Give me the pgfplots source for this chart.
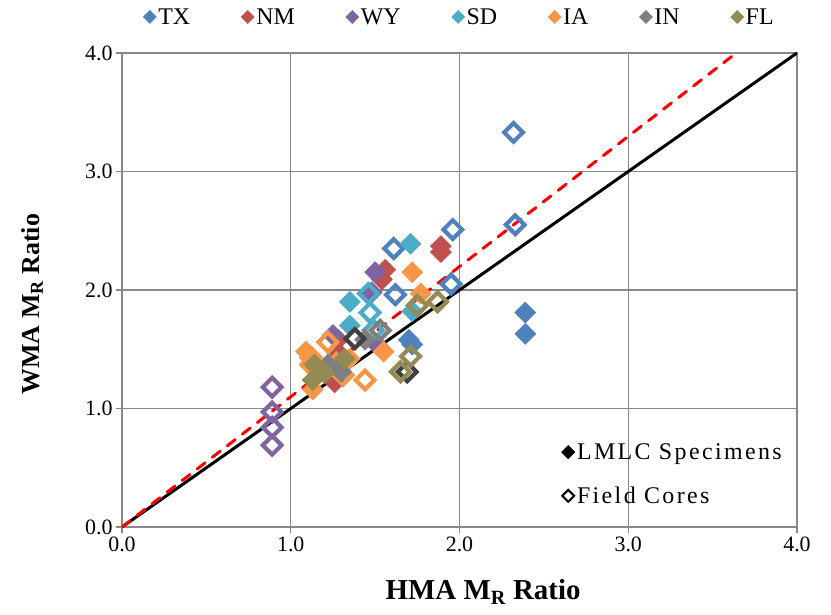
\documentclass[border=0pt]{standalone}
\usepackage{fontspec}
\setmainfont{Liberation Serif}
\usepackage{pgfplots}
\pgfplotsset{compat=1.18}
\definecolor{cTX}{HTML}{4F81BD}
\definecolor{cNM}{HTML}{C0504D}
\definecolor{cWY}{HTML}{8064A2}
\definecolor{cSD}{HTML}{4BACC6}
\definecolor{cIA}{HTML}{F79646}
\definecolor{cIN}{HTML}{7F7F7F}
\definecolor{cINd}{HTML}{404040}
\definecolor{cFL}{HTML}{948A54}
\definecolor{gridc}{HTML}{888888}
\pgfplotsset{
  fd/.style={only marks, mark=square*, mark size=7.3bp, mark options={rotate=45, fill=#1, draw=#1, line width=0.8bp}, forget plot},
  od/.style={only marks, mark=square, mark size=6.6bp, mark options={rotate=45, draw=#1, line width=4.2bp}, forget plot},
  ld/.style={only marks, mark=square*, mark size=4.6bp, mark options={rotate=45, fill=#1, draw=#1, line width=0.5bp}},
}
\begin{document}
\begin{tikzpicture}
\begin{axis}[name=ax, scale only axis, width=675bp, height=474bp,
  xmin=0, xmax=4, ymin=0, ymax=4,
  xtick={0,1,2,3,4}, ytick={0,1,2,3,4},
  xticklabels={0.0,1.0,2.0,3.0,4.0}, yticklabels={0.0,1.0,2.0,3.0,4.0},
  xtick pos=lower, ytick pos=left, tick align=outside, major tick length=6bp,
  grid=major, grid style={gridc, line width=1.3bp},
  axis line style={gridc, line width=1.3bp}, tick style={gridc, line width=1.3bp},
  tick label style={font=\fontsize{22}{26}\selectfont},
  xlabel={\textbf{HMA M\textsubscript{R} Ratio}},
  ylabel={\textbf{WMA M\textsubscript{R} Ratio}},
  xlabel style={font=\fontsize{29}{33}\selectfont, at={(axis description cs:0.535,-0.137)}, anchor=center},
  ylabel style={font=\fontsize{26}{30}\selectfont, at={(axis description cs:-0.1333,0.47)}, anchor=center, rotate=0},
  legend columns=7,
  legend style={at={(0.5,1.076)}, anchor=center, draw=none, fill=none,
    font=\fontsize{24}{28}\selectfont, nodes={inner xsep=2bp, inner ysep=1bp},
    /tikz/every even column/.append style={column sep=49bp}},
  legend image code/.code={\draw[#1] plot coordinates {(0bp,0bp)};},
]
\addlegendimage{ld=cTX}\addlegendentry{TX}
\addlegendimage{ld=cNM}\addlegendentry{NM}
\addlegendimage{ld=cWY}\addlegendentry{WY}
\addlegendimage{ld=cSD}\addlegendentry{SD}
\addlegendimage{ld=cIA}\addlegendentry{IA}
\addlegendimage{ld=cIN}\addlegendentry{IN}
\addlegendimage{ld=cFL}\addlegendentry{FL}
% TX
\addplot[fd=cTX] coordinates {(1.70,1.58)(1.72,1.54)(2.39,1.81)(2.39,1.63)};
\addplot[od=cTX] coordinates {(2.32,3.33)(2.33,2.55)(1.96,2.51)(1.95,2.05)(1.61,2.35)(1.62,1.96)};
% NM
\addplot[fd=cNM] coordinates {(1.89,2.37)(1.89,2.32)(1.56,2.17)(1.54,2.09)(1.28,1.58)(1.29,1.46)(1.26,1.22)};
% WY
\addplot[fd=cWY] coordinates {(1.50,2.15)(1.48,1.98)(1.25,1.62)(1.51,1.54)};
\addplot[od=cWY] coordinates {(0.89,1.18)(0.89,0.97)(0.89,0.84)(0.89,0.69)};
% SD
\addplot[fd=cSD] coordinates {(1.71,2.39)(1.35,1.90)(1.35,1.70)(1.72,1.82)};
\addplot[od=cSD] coordinates {(1.46,1.97)(1.47,1.81)(1.49,1.66)};
% IA
\addplot[fd=cIA] coordinates {(1.72,2.15)(1.77,1.97)(1.55,1.48)(1.09,1.48)(1.11,1.37)(1.13,1.16)(1.35,1.42)};
\addplot[od=cIA] coordinates {(1.22,1.56)(1.12,1.43)(1.31,1.28)(1.44,1.24)(1.27,1.38)};
% IN
\addplot[fd=cIN] coordinates {(1.22,1.37)(1.44,1.58)(1.30,1.31)};
\addplot[od=cIN] coordinates {(1.53,1.66)};
\addplot[od=cINd] coordinates {(1.38,1.59)(1.69,1.31)};
% FL
\addplot[fd=cFL] coordinates {(1.13,1.24)(1.14,1.37)(1.32,1.42)(1.20,1.30)};
\addplot[od=cFL] coordinates {(1.75,1.87)(1.87,1.90)(1.71,1.44)(1.65,1.31)};
% lines
\addplot[black, line width=3bp, forget plot] coordinates {(0,0)(4,4)};
\addplot[red, line width=3bp, line cap=round, dash pattern=on 10bp off 9bp, forget plot] coordinates {(0,0)(3.64,4)};
\end{axis}
\begin{axis}[scale only axis, width=675bp, height=474bp, hide axis,
  xmin=0, xmax=4, ymin=0, ymax=4,
  legend cell align=left,
  legend style={at={(0.985,0.04)}, anchor=south east, draw=none, fill=none,
    font=\fontsize{24}{28}\selectfont\addfontfeature{LetterSpace=10}, row sep=24bp,
    nodes={inner xsep=2bp, inner ysep=1bp}},
  legend image code/.code={\draw[#1] plot coordinates {(0bp,0bp)};},
]
\addlegendimage{only marks, mark=square*, mark size=4.8bp, mark options={rotate=45, fill=black, draw=black}}
\addlegendentry{LMLC Specimens}
\addlegendimage{only marks, mark=square, mark size=4.2bp, mark options={rotate=45, draw=black, line width=2bp}}
\addlegendentry{Field Cores}
\end{axis}
\pgfresetboundingbox
\path (ax.south west) ++(-122bp,-88bp) rectangle ++(831bp,615bp);
\end{tikzpicture}
\end{document}
